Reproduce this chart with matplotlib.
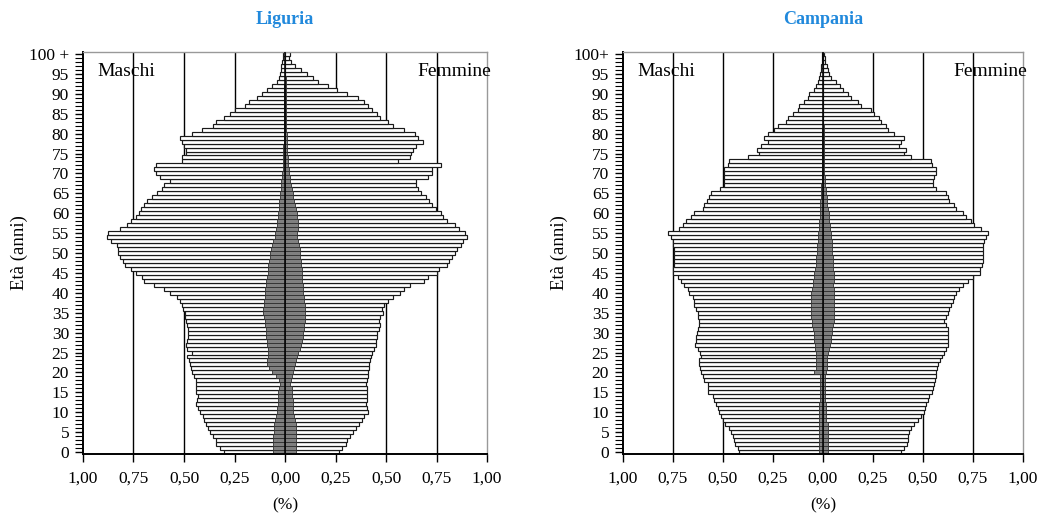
import numpy as np
import matplotlib
matplotlib.use("Agg")
import matplotlib.pyplot as plt

plt.rcParams['font.family'] = ['Liberation Serif', 'DejaVu Serif']

ages = np.arange(0, 101)

# quote percentuali per singolo anno di età (0 ... 100+)
lig_maschi = [
    0.30, 0.32, 0.34, 0.34, 0.355, 0.37, 0.38, 0.39, 0.40, 0.405,
    0.42, 0.43, 0.44, 0.435, 0.43, 0.44, 0.44, 0.44, 0.44, 0.45,
    0.46, 0.465, 0.47, 0.475, 0.485, 0.46, 0.485, 0.49, 0.485, 0.48,
    0.48, 0.48, 0.485, 0.49, 0.495, 0.495, 0.505, 0.51, 0.52, 0.535,
    0.57, 0.60, 0.65, 0.70, 0.71, 0.74, 0.76, 0.79, 0.80, 0.815,
    0.825, 0.825, 0.83, 0.86, 0.88, 0.875, 0.815, 0.78, 0.76, 0.74,
    0.725, 0.715, 0.70, 0.685, 0.66, 0.635, 0.61, 0.60, 0.57, 0.62,
    0.64, 0.65, 0.64, 0.51, 0.51, 0.49, 0.49, 0.50, 0.51, 0.52,
    0.46, 0.41, 0.355, 0.34, 0.30, 0.27, 0.25, 0.20, 0.18, 0.14,
    0.115, 0.09, 0.066, 0.04, 0.03, 0.025, 0.022, 0.02, 0.015, 0.012,
    0.01]
lig_femmine = [
    0.265, 0.28, 0.30, 0.305, 0.32, 0.335, 0.35, 0.365, 0.38, 0.39,
    0.41, 0.405, 0.40, 0.405, 0.405, 0.405, 0.405, 0.40, 0.405, 0.41,
    0.41, 0.415, 0.415, 0.42, 0.425, 0.43, 0.44, 0.45, 0.45, 0.455,
    0.455, 0.465, 0.47, 0.465, 0.47, 0.485, 0.48, 0.49, 0.51, 0.535,
    0.57, 0.59, 0.62, 0.69, 0.71, 0.75, 0.76, 0.80, 0.81, 0.825,
    0.84, 0.85, 0.87, 0.88, 0.90, 0.89, 0.86, 0.84, 0.80, 0.78,
    0.77, 0.745, 0.73, 0.715, 0.70, 0.675, 0.66, 0.65, 0.65, 0.71,
    0.73, 0.73, 0.77, 0.56, 0.62, 0.625, 0.635, 0.65, 0.685, 0.66,
    0.645, 0.59, 0.535, 0.51, 0.47, 0.455, 0.43, 0.41, 0.39, 0.36,
    0.305, 0.255, 0.215, 0.165, 0.14, 0.107, 0.08, 0.05, 0.03, 0.02,
    0.025]
lig_str_maschi = [
    0.06, 0.06, 0.058, 0.058, 0.058, 0.056, 0.055, 0.055, 0.05, 0.045,
    0.04, 0.038, 0.035, 0.035, 0.033, 0.033, 0.03, 0.025, 0.028, 0.045,
    0.065, 0.08, 0.09, 0.088, 0.085, 0.082, 0.085, 0.088, 0.09, 0.092,
    0.094, 0.096, 0.098, 0.10, 0.104, 0.107, 0.107, 0.105, 0.103, 0.10,
    0.099, 0.098, 0.096, 0.092, 0.088, 0.085, 0.083, 0.082, 0.078, 0.076,
    0.074, 0.07, 0.062, 0.058, 0.052, 0.05, 0.045, 0.04, 0.038, 0.035,
    0.033, 0.032, 0.03, 0.028, 0.026, 0.025, 0.022, 0.02, 0.018, 0.016,
    0.014, 0.012, 0.011, 0.01, 0.01, 0.009, 0.008, 0.008, 0.007, 0.007,
    0.006, 0.006, 0.005, 0.005, 0.005, 0.004, 0.004, 0.004, 0.003, 0.003,
    0.003, 0.003, 0.003, 0.002, 0.002, 0.002, 0.002, 0.002, 0.002, 0.002,
    0.002]
lig_str_femmine = [
    0.055, 0.055, 0.055, 0.055, 0.055, 0.055, 0.055, 0.052, 0.048, 0.045,
    0.042, 0.04, 0.04, 0.038, 0.037, 0.035, 0.033, 0.025, 0.03, 0.035,
    0.04, 0.045, 0.05, 0.055, 0.06, 0.066, 0.072, 0.078, 0.083, 0.087,
    0.09, 0.093, 0.096, 0.10, 0.10, 0.10, 0.10, 0.098, 0.095, 0.092,
    0.09, 0.088, 0.087, 0.085, 0.084, 0.083, 0.082, 0.08, 0.078, 0.076,
    0.074, 0.072, 0.07, 0.065, 0.06, 0.058, 0.062, 0.066, 0.064, 0.06,
    0.058, 0.053, 0.048, 0.045, 0.042, 0.04, 0.035, 0.03, 0.027, 0.024,
    0.02, 0.018, 0.016, 0.014, 0.013, 0.012, 0.011, 0.01, 0.009, 0.008,
    0.008, 0.007, 0.007, 0.006, 0.006, 0.005, 0.005, 0.005, 0.004, 0.004,
    0.004, 0.003, 0.003, 0.003, 0.003, 0.002, 0.002, 0.002, 0.002, 0.002,
    0.002]

cam_maschi = [
    0.418, 0.427, 0.44, 0.443, 0.452, 0.46, 0.468, 0.49, 0.502, 0.51,
    0.518, 0.527, 0.535, 0.547, 0.552, 0.573, 0.577, 0.577, 0.597, 0.602,
    0.61, 0.613, 0.618, 0.618, 0.61, 0.613, 0.627, 0.64, 0.635, 0.635,
    0.63, 0.627, 0.618, 0.622, 0.627, 0.627, 0.635, 0.643, 0.643, 0.652,
    0.668, 0.677, 0.693, 0.71, 0.727, 0.752, 0.748, 0.745, 0.743, 0.747,
    0.747, 0.747, 0.752, 0.752, 0.76, 0.777, 0.718, 0.70, 0.685, 0.66,
    0.643, 0.60, 0.597, 0.58, 0.568, 0.56, 0.515, 0.497, 0.493, 0.493,
    0.497, 0.497, 0.477, 0.468, 0.377, 0.318, 0.33, 0.31, 0.277, 0.297,
    0.277, 0.243, 0.227, 0.185, 0.177, 0.152, 0.127, 0.118, 0.097, 0.077,
    0.068, 0.047, 0.035, 0.027, 0.018, 0.013, 0.01, 0.008, 0.006, 0.005,
    0.005]
cam_femmine = [
    0.39, 0.407, 0.42, 0.423, 0.427, 0.432, 0.44, 0.457, 0.473, 0.49,
    0.503, 0.51, 0.517, 0.523, 0.532, 0.543, 0.548, 0.555, 0.56, 0.563,
    0.565, 0.568, 0.573, 0.587, 0.593, 0.603, 0.615, 0.627, 0.623, 0.623,
    0.623, 0.623, 0.615, 0.607, 0.615, 0.623, 0.632, 0.64, 0.648, 0.653,
    0.665, 0.682, 0.698, 0.723, 0.748, 0.787, 0.787, 0.793, 0.798, 0.798,
    0.80, 0.80, 0.80, 0.807, 0.815, 0.823, 0.79, 0.757, 0.74, 0.715,
    0.698, 0.665, 0.657, 0.632, 0.623, 0.615, 0.565, 0.548, 0.548, 0.557,
    0.565, 0.565, 0.543, 0.54, 0.44, 0.407, 0.415, 0.382, 0.39, 0.403,
    0.357, 0.323, 0.315, 0.29, 0.282, 0.257, 0.24, 0.19, 0.173, 0.14,
    0.123, 0.098, 0.087, 0.065, 0.04, 0.032, 0.023, 0.02, 0.012, 0.008,
    0.007]
cam_str_maschi = [
    0.022, 0.022, 0.022, 0.022, 0.022, 0.022, 0.022, 0.022, 0.018, 0.018,
    0.018, 0.018, 0.018, 0.013, 0.013, 0.013, 0.013, 0.013, 0.013, 0.013,
    0.043, 0.035, 0.035, 0.036, 0.036, 0.037, 0.04, 0.042, 0.043, 0.045,
    0.047, 0.05, 0.053, 0.057, 0.058, 0.06, 0.06, 0.06, 0.06, 0.06,
    0.06, 0.056, 0.052, 0.05, 0.046, 0.043, 0.04, 0.037, 0.035, 0.033,
    0.032, 0.03, 0.028, 0.027, 0.026, 0.025, 0.022, 0.02, 0.018, 0.017,
    0.016, 0.016, 0.015, 0.013, 0.012, 0.01, 0.009, 0.008, 0.007, 0.006,
    0.005, 0.005, 0.004, 0.004, 0.004, 0.004, 0.003, 0.003, 0.003, 0.003,
    0.003, 0.003, 0.002, 0.002, 0.002, 0.002, 0.002, 0.002, 0.002, 0.002,
    0.002, 0.002, 0.002, 0.002, 0.002, 0.002, 0.002, 0.002, 0.002, 0.002,
    0.002]
cam_str_femmine = [
    0.023, 0.023, 0.023, 0.023, 0.023, 0.023, 0.023, 0.023, 0.016, 0.016,
    0.016, 0.016, 0.016, 0.01, 0.01, 0.01, 0.01, 0.01, 0.01, 0.01,
    0.015, 0.018, 0.02, 0.02, 0.022, 0.025, 0.03, 0.035, 0.038, 0.04,
    0.043, 0.046, 0.05, 0.053, 0.055, 0.057, 0.057, 0.057, 0.057, 0.057,
    0.057, 0.055, 0.052, 0.053, 0.053, 0.053, 0.05, 0.049, 0.048, 0.048,
    0.047, 0.046, 0.045, 0.044, 0.042, 0.04, 0.037, 0.034, 0.032, 0.03,
    0.028, 0.025, 0.022, 0.02, 0.018, 0.015, 0.013, 0.012, 0.01, 0.008,
    0.006, 0.006, 0.005, 0.005, 0.005, 0.004, 0.004, 0.004, 0.003, 0.003,
    0.003, 0.003, 0.003, 0.002, 0.002, 0.002, 0.002, 0.002, 0.002, 0.002,
    0.002, 0.002, 0.002, 0.002, 0.002, 0.002, 0.002, 0.002, 0.002, 0.002,
    0.002]

xticks = [-1, -0.75, -0.5, -0.25, 0, 0.25, 0.5, 0.75, 1]
xticklabels = ['1,00', '0,75', '0,50', '0,25', '0,00', '0,25', '0,50', '0,75', '1,00']
yticks = list(range(0, 101, 5))


def pyramid(ax, title, m, f, sm, sf, top_label):
    # griglia verticale dietro le barre
    for g in [-0.75, -0.5, -0.25, 0.25, 0.5, 0.75]:
        ax.axvline(g, color='black', lw=1.0, zorder=0)

    ax.barh(ages, -np.array(m), height=1.0, color='white',
            edgecolor='#1a1a1a', linewidth=0.85, zorder=1)
    ax.barh(ages, f, height=1.0, color='white',
            edgecolor='#1a1a1a', linewidth=0.85, zorder=1)
    # popolazione straniera
    ax.barh(ages, -np.array(sm), height=1.0, color='#808080',
            edgecolor='#303030', linewidth=0.6, zorder=2)
    ax.barh(ages, sf, height=1.0, color='#808080',
            edgecolor='#303030', linewidth=0.6, zorder=2)
    ax.axvline(0, color='black', lw=1.1, zorder=3)

    ax.set_xlim(-1, 1)
    ax.set_ylim(-0.5, 100.5)
    ax.set_xticks(xticks)
    ax.set_xticklabels(xticklabels, fontsize=12.5)
    ax.set_yticks(yticks)
    ylab = [str(v) for v in yticks]
    ylab[-1] = top_label
    ax.set_yticklabels(ylab, fontsize=12.5)
    ax.set_yticks(range(0, 101), minor=True)
    ax.tick_params(axis='y', which='major', length=6, width=1.0, pad=4)
    ax.tick_params(axis='y', which='minor', length=6, width=0.8)
    ax.tick_params(axis='x', length=6, width=1.0, pad=6)

    for s in ['left', 'bottom']:
        ax.spines[s].set_linewidth(1.4)
        ax.spines[s].set_color('black')
    for s in ['top', 'right']:
        ax.spines[s].set_linewidth(1.0)
        ax.spines[s].set_color('#999999')

    ax.text(-0.93, 95.6, 'Maschi', fontsize=14, va='center', ha='left', zorder=4)
    ax.text(1.02, 95.6, 'Femmine', fontsize=14, va='center', ha='right', zorder=4)

    ax.set_title(title, fontsize=13, fontweight='bold', color='#2189dc', pad=20)
    ax.set_xlabel('(%)', fontsize=12.5, va='center')
    ax.xaxis.set_label_coords(0.5, -0.127)
    ax.set_ylabel('Età (anni)', fontsize=13.5, va='center')
    ax.yaxis.set_label_coords(-0.158, 0.5)


fig = plt.figure(figsize=(10.4, 5.13), dpi=100)
ax1 = fig.add_axes([0.0798, 0.115, 0.3885, 0.7836])
ax2 = fig.add_axes([0.599, 0.115, 0.3846, 0.7836])

pyramid(ax1, 'Liguria', lig_maschi, lig_femmine, lig_str_maschi, lig_str_femmine, '100 +')
pyramid(ax2, 'Campania', cam_maschi, cam_femmine, cam_str_maschi, cam_str_femmine, '100+')

fig.savefig('out.png', dpi=100)
